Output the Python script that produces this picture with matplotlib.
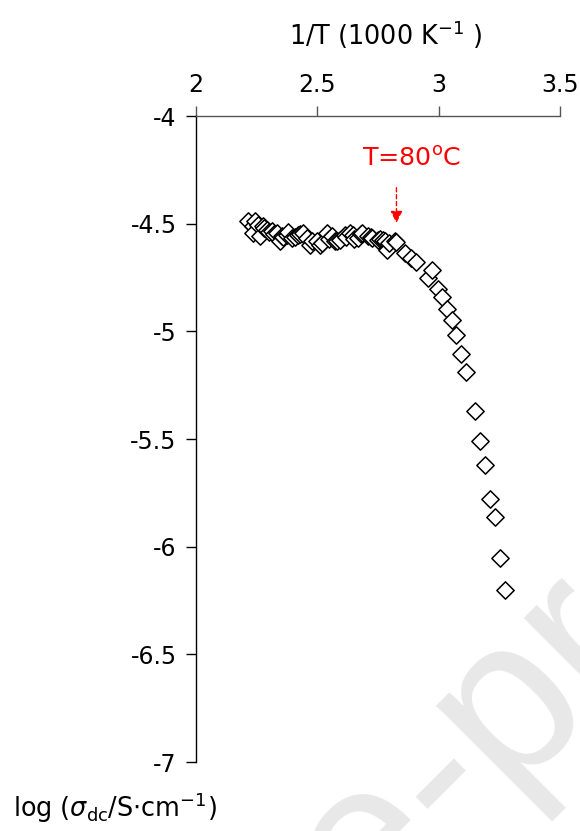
import matplotlib
matplotlib.use("Agg")
import matplotlib.pyplot as plt

inv_T = [2.214, 2.234, 2.234, 2.243, 2.255, 2.263, 2.275, 2.28, 2.292, 2.30, 2.312, 2.32,
         2.333, 2.345, 2.353, 2.36, 2.374, 2.38, 2.395, 2.41, 2.419, 2.43, 2.440, 2.456,
         2.469, 2.48, 2.497, 2.510, 2.52, 2.538, 2.55, 2.559, 2.571, 2.58, 2.592, 2.612,
         2.62, 2.633, 2.645, 2.65, 2.666, 2.68, 2.686, 2.707, 2.72, 2.727, 2.748, 2.76,
         2.769, 2.78, 2.789, 2.797, 2.818, 2.826, 2.863, 2.888, 2.908, 2.958, 2.974,
         2.999, 3.015, 3.036, 3.056, 3.073, 3.093, 3.114, 3.151, 3.171, 3.192, 3.212,
         3.233, 3.254, 3.274]
log_sigma = [-4.488, -4.512, -4.544, -4.488, -4.507, -4.558, -4.512, -4.52, -4.530, -4.54,
             -4.535, -4.55, -4.544, -4.581, -4.558, -4.56, -4.553, -4.54, -4.567, -4.56,
             -4.553, -4.55, -4.544, -4.567, -4.600, -4.58, -4.581, -4.600, -4.59, -4.544,
             -4.57, -4.558, -4.581, -4.58, -4.577, -4.553, -4.56, -4.544, -4.553, -4.57,
             -4.567, -4.55, -4.544, -4.558, -4.56, -4.567, -4.577, -4.57, -4.577, -4.58,
             -4.623, -4.591, -4.581, -4.586, -4.637, -4.660, -4.679, -4.753, -4.716,
             -4.805, -4.842, -4.898, -4.949, -5.019, -5.107, -5.191, -5.372, -5.507,
             -5.619, -5.777, -5.860, -6.051, -6.200]

x_ticks = [2, 2.5, 3, 3.5]
x_tick_labels = ["2", "2.5", "3", "3.5"]
y_ticks = [-4, -4.5, -5, -5.5, -6, -6.5, -7]
y_tick_labels = ["-4", "-4.5", "-5", "-5.5", "-6", "-6.5", "-7"]

annot_x = 2.826
annot_text = "T=80$^{\\rm o}$C"

plt.rcParams['font.family'] = ['DejaVu Sans']
fig = plt.figure(figsize=(5.8, 8.31), dpi=100)

# watermark
fig.text(0.380, -0.213, "Journal Pre-proof", fontsize=160, color='#e8e8e8',
         rotation=45, ha='center', va='center', zorder=0, family='Liberation Sans',
         rotation_mode='anchor')

ax = fig.add_axes([196/580, 1-762/831, (560-196)/580, (762-116)/831])
ax.patch.set_alpha(0)
ax.scatter(inv_T, log_sigma, marker='D', s=8.8**2, facecolors='white',
           edgecolors='black', linewidths=1.1, zorder=3)

ax.set_xlim(2, 3.5)
ax.set_ylim(-7, -4)
ax.spines['right'].set_visible(False)
ax.spines['bottom'].set_visible(False)
for s in ['left', 'top']:
    ax.spines[s].set_linewidth(1.0)
ax.spines['top'].set_color('#555555')
ax.xaxis.tick_top()
ax.set_xticks(x_ticks)
ax.set_xticklabels(x_tick_labels)
ax.set_yticks(y_ticks)
ax.set_yticklabels(y_tick_labels)
ax.tick_params(axis='x', direction='out', length=7, width=1, labelsize=17, pad=7,
               colors='#555555', labelcolor='black')
ax.tick_params(axis='y', direction='out', length=7, width=1, labelsize=17, pad=7)

fig.text(386/580, 1-35/831, "1/T (1000 K$^{-1}$ )", fontsize=18.4, ha='center', va='center')
fig.text(13/580, 1-808/831, "log ($\\sigma_{\\rm dc}$/S$\\cdot$cm$^{-1}$)", fontsize=18.4,
         ha='left', va='center')

ax.annotate("", xy=(annot_x, -4.51), xytext=(annot_x, -4.32),
            arrowprops=dict(arrowstyle='-|>', color='red', linestyle=(0, (3, 2)),
                            lw=1.0, mutation_scale=18))
ax.text(2.89, -4.2, annot_text, color='red', fontsize=18.3, ha='center', va='center')

fig.savefig("out.png", dpi=100)
